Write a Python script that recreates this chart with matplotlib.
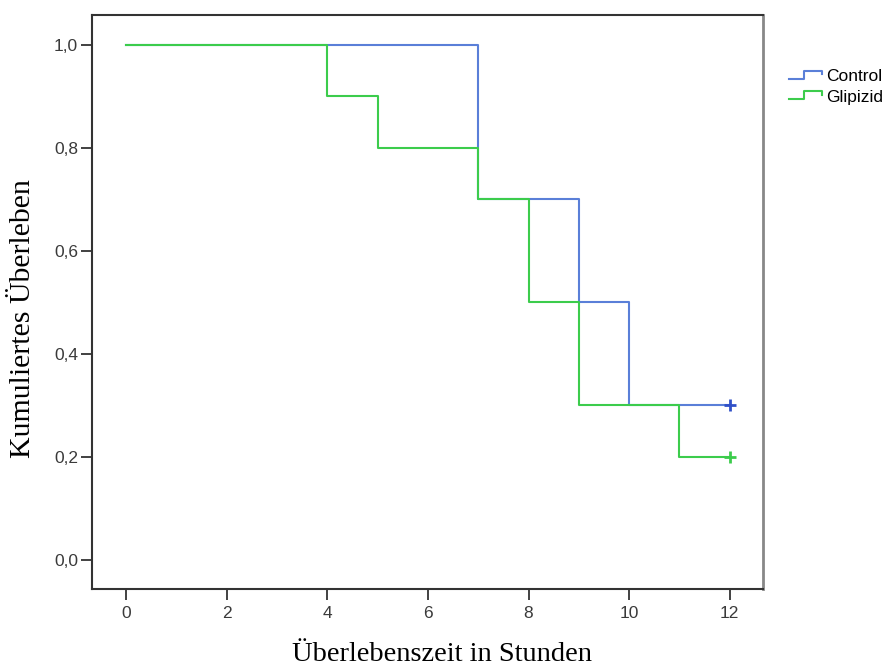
import matplotlib
matplotlib.use("Agg")
import matplotlib.pyplot as plt
from matplotlib.lines import Line2D
from matplotlib.legend_handler import HandlerBase

# Data (Kaplan-Meier steps)
control_t = [0, 7, 9, 10, 12]
control_s = [1.0, 0.7, 0.5, 0.3, 0.3]
glipizid_t = [0, 4, 5, 7, 8, 9, 11, 12]
glipizid_s = [1.0, 0.9, 0.8, 0.7, 0.5, 0.3, 0.2, 0.2]
censor_t = [12, 12]
censor_s = [0.3, 0.2]
series_names = ["Control", "Glipizid"]
colors = ["#5a7fd8", "#3ccc4c"]
xticks = [0, 2, 4, 6, 8, 10, 12]
yticks = [0.0, 0.2, 0.4, 0.6, 0.8, 1.0]
ytick_labels = ["0,0", "0,2", "0,4", "0,6", "0,8", "1,0"]

fig = plt.figure(figsize=(8.85, 6.7), dpi=100)
ax = fig.add_axes([0.104, 0.121, 0.758, 0.857])

ax.step(control_t, control_s, where="post", color=colors[0], lw=1.5)
ax.step(glipizid_t, glipizid_s, where="post", color=colors[1], lw=1.5)
ax.plot([censor_t[0]], [censor_s[0]], marker="+", ms=9, mew=2, color="#3050c8")
ax.plot([censor_t[1]], [censor_s[1]], marker="+", ms=9, mew=2, color=colors[1])

ax.set_xlim(-0.68, 12.66)
ax.set_ylim(-0.056, 1.058)
ax.set_xticks(xticks)
ax.set_xticklabels([str(v) for v in xticks], family="Liberation Sans", fontsize=12.5, color="#3a3a3a")
ax.set_yticks(yticks)
ax.set_yticklabels(ytick_labels, family="Liberation Sans", fontsize=12.5, color="#3a3a3a")
ax.tick_params(axis="both", length=8, width=1.3, color="#333333")
ax.tick_params(axis="x", pad=4)
ax.tick_params(axis="y", pad=2)
for s in ax.spines.values():
    s.set_linewidth(1.5)
    s.set_color("#333333")
ax.spines["right"].set_color("#888888")
ax.spines["right"].set_linewidth(2)

ax.set_xlabel("Überlebenszeit in Stunden", family="Liberation Serif", fontsize=20.5)
ax.set_ylabel("Kumuliertes Überleben", family="Liberation Serif", fontsize=21.5)
ax.xaxis.set_label_coords(0.521, -0.092)
ax.yaxis.set_label_coords(-0.084, 0.47)


class StepHandler(HandlerBase):
    def create_artists(self, legend, orig_handle, xdescent, ydescent, width, height, fontsize, trans):
        w = width
        h = height
        xs = [-xdescent, -xdescent + 0.45 * w, -xdescent + 0.45 * w, -xdescent + w, -xdescent + w]
        ys = [0.2 * h, 0.2 * h, 0.85 * h, 0.85 * h, 0.55 * h]
        ln = Line2D(xs, ys, color=orig_handle.get_color(), lw=1.5, transform=trans)
        return [ln]


handles = [Line2D([], [], color=c) for c in colors]
leg = fig.legend(handles, series_names, loc="upper left", bbox_to_anchor=(0.892, 0.897),
                 frameon=False, handler_map={Line2D: StepHandler()},
                 prop={"family": "Liberation Sans", "size": 12.5}, handlelength=1.9,
                 handletextpad=0.2, labelspacing=0.3, borderaxespad=0, borderpad=0)

fig.savefig("out.png", dpi=100)
